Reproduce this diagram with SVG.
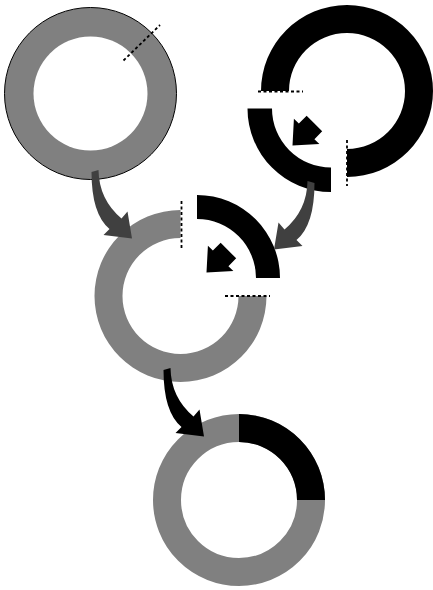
<svg xmlns="http://www.w3.org/2000/svg" width="433" height="590" viewBox="0 0 433 590">
<style>
.gray{fill:#808080}
.blk{fill:#000}
.dot{fill:none;stroke:#000;stroke-width:1.8;stroke-dasharray:3 2.5}
.darr{fill:#404040}
</style>
<defs>
<path id="curved" d="M91.5,172 L98.5,170 Q99,199.5 121.5,218.5 L127.5,211.5 L132,238.5 L103.5,235 L109.5,229 Q91.5,214 91.5,172 Z"/>
<path id="small" d="M0,0 L-20,-18 L-20,-11 L-31,-11 L-31,11 L-20,11 L-20,18 Z"/>
</defs>
<rect width="433" height="590" fill="#fff"/>
<g id="ring1">
<circle cx="90.5" cy="93.5" r="86" class="gray" stroke="#000" stroke-width="1"/>
<circle cx="90.5" cy="93.5" r="57" fill="#fff"/>
<line x1="123.5" y1="60.5" x2="160" y2="25" class="dot"/>
</g>
<g id="ring2">
<path class="blk" d="M261,91 A86,86 0 1 1 347,177 L347,149 A58,58 0 1 0 289,91 Z"/>
<path class="blk" d="M331,192 A83.5,83.5 0 0 1 247.5,108.5 L272,108.5 A59,59 0 0 0 331,167.5 Z"/>
<line x1="258" y1="91.5" x2="303" y2="91.5" class="dot"/>
<line x1="347" y1="140" x2="347" y2="186" class="dot"/>
</g>
<g id="ring3">
<path class="gray" d="M180.5,210 A86,86 0 1 0 266.5,296 L238.5,296 A58,58 0 1 1 180.5,238 Z"/>
<path class="blk" d="M197,195 A83,83 0 0 1 280,278 L256,278 A59,59 0 0 0 197,219 Z"/>
<line x1="181.5" y1="201" x2="181.5" y2="248" class="dot"/>
<line x1="225" y1="296" x2="270" y2="296" class="dot"/>
</g>
<g id="ring4">
<circle cx="239" cy="500" r="72" fill="none" stroke="#808080" stroke-width="28"/>
<path class="blk" d="M239,414 A86,86 0 0 1 325,500 L297,500 A58,58 0 0 0 239,442 Z"/>
</g>
<g id="connectors">
<use href="#curved" class="darr"/>
<use href="#curved" class="darr" transform="translate(406,11) scale(-1,1)"/>
<use href="#curved" class="blk" transform="translate(72,198)"/>
<use href="#small" class="blk" transform="translate(292.5,145.5) rotate(135)"/>
<use href="#small" class="blk" transform="translate(206.5,272.5) rotate(135)"/>
</g>
</svg>
